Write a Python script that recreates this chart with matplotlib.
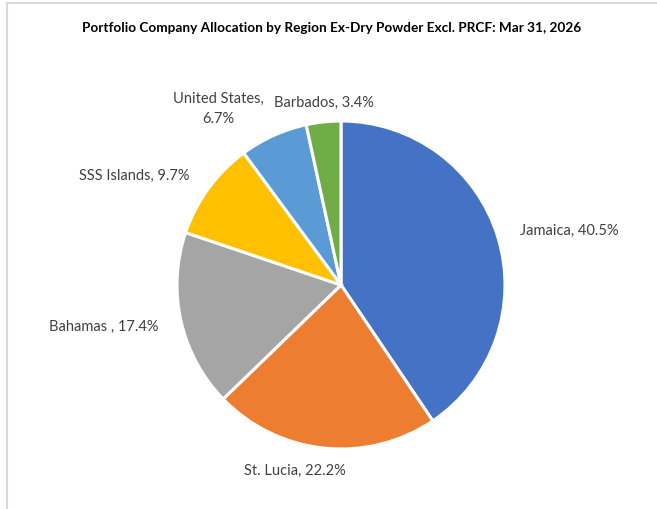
import numpy as np
import matplotlib.pyplot as plt
from matplotlib.lines import Line2D

plt.rcParams['font.family'] = ['Lato', 'DejaVu Sans']

# dados do gráfico
regioes = ['Jamaica', 'St. Lucia', 'Bahamas ', 'SSS Islands', 'United States', 'Barbados']
valores = [40.5, 22.2, 17.4, 9.7, 6.7, 3.4]
cores = ['#4472C4', '#ED7D31', '#A5A5A5', '#FFC000', '#5B9BD5', '#70AD47']
titulo = 'Portfolio Company Allocation by Region Ex-Dry Powder Excl. PRCF: Mar 31, 2026'

rotulos = []
for r, v in zip(regioes, valores):
    if r == 'United States':
        rotulos.append(f'{r},\n{v}%')
    else:
        rotulos.append(f'{r}, {v}%')

W, H = 657, 510
fig = plt.figure(figsize=(W / 100, H / 100), dpi=100)
fig.patch.set_facecolor('white')

# posição do pizza (centro ~ (341, 286) px, raio ~164 px)
raio_px = 164
a = 1.3
lado = 2 * a * raio_px
cx, cy = 341, H - 286
ax = fig.add_axes([(cx - lado / 2) / W, (cy - lado / 2) / H, lado / W, lado / H])

wedges, textos = ax.pie(valores, labels=rotulos, colors=cores, startangle=90,
                        counterclock=False, labeldistance=1.14,
                        wedgeprops=dict(edgecolor='white', linewidth=2.2),
                        textprops=dict(fontsize=10.5, color='#404040'))
ax.set_xlim(-a, a)
ax.set_ylim(-a, a)
ax.set_aspect('equal')
ax.axis('off')

# ajustes de posição dos rótulos (estilo Excel)
for w, t in zip(wedges, textos):
    ang = np.deg2rad((w.theta1 + w.theta2) / 2)
    t.set_multialignment('center')
    if '\n' in t.get_text():
        t.set_linespacing(1.55)
        x, y = t.get_position()
        t.set_position((x, y + 0.04))
    if abs(np.cos(ang)) < 0.2:
        t.set_ha('center')
        if np.sin(ang) > 0:
            t.set_va('bottom')
            t.set_position((1.0 * np.cos(ang), 1.08 * np.sin(ang)))
        else:
            t.set_va('top')
            t.set_position((2.7 * np.cos(ang), 1.09 * np.sin(ang)))

fig.text(332 / W, 1 - 28 / H, titulo, ha='center', va='center',
         fontsize=9.8, fontweight='bold', color='black')

# moldura cinza (topo e esquerda)
fig.add_artist(Line2D([7 / W, 1], [1 - 4 / H, 1 - 4 / H], color='#d9d9d9', lw=1.5))
fig.add_artist(Line2D([7 / W, 7 / W], [0, 1 - 4 / H], color='#d9d9d9', lw=1.5))

fig.savefig('out.png', dpi=100)
